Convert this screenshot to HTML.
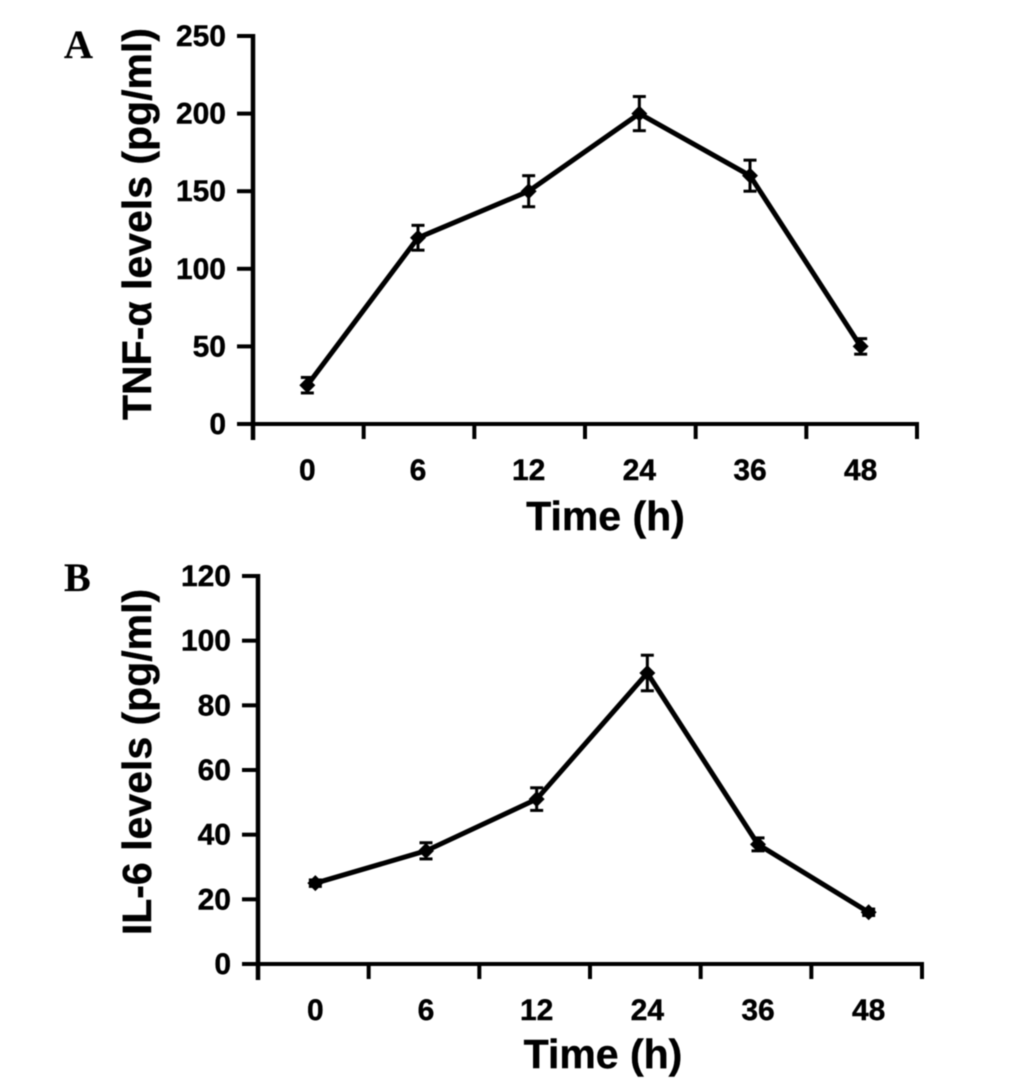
<!DOCTYPE html>
<html>
<head>
<meta charset="utf-8">
<style>
html,body{margin:0;padding:0;background:#fff;}
svg{display:block;filter:blur(0.45px);}
text{font-family:"Liberation Sans",sans-serif;font-weight:bold;fill:#000;stroke:#000;stroke-width:0.4px;}
.letter{font-family:"Liberation Serif",serif;stroke-width:0.2px;}
</style>
</head>
<body>
<svg id="figure" width="1033" height="1083" viewBox="0 0 1033 1083" xmlns="http://www.w3.org/2000/svg">
<rect width="1033" height="1083" fill="#fff"/>
<text class="letter" x="64" y="58" font-size="40">A</text>
<text class="letter" x="64" y="591" font-size="40">B</text>
</svg>
<script>
const categories = ["0", "6", "12", "24", "36", "48"];
const tnfValues = [25, 120, 150, 200, 160, 50];
const tnfErrors = [5, 8, 10, 11, 10, 5];
const tnfTicks = [0, 50, 100, 150, 200, 250];
const il6Values = [25, 35, 51, 90, 37, 16];
const il6Errors = [1, 2.5, 3.5, 5.5, 2, 1];
const il6Ticks = [0, 20, 40, 60, 80, 100, 120];

const svg = document.getElementById('figure');
const NS = 'http://www.w3.org/2000/svg';

function make(tag, attrs, name) {
  const el = document.createElementNS(NS, tag);
  for (const k in attrs) el.setAttribute(k, attrs[k]);
  
  
  svg.appendChild(el);
  return el;
}

function drawPanel(p) {
  const yMax = p.ticks[p.ticks.length - 1];
  const yPos = v => p.y0 - (v / yMax) * (p.y0 - p.yTop);
  const band = (p.xEnd - p.x0) / p.cats.length;
  const xPos = i => p.x0 + band * (i + 0.5) + p.shift;
  const id = p.id;

  make('line', {x1: p.x0, x2: p.x0, y1: p.yTop - 2, y2: p.y0 + 16, stroke: '#000', 'stroke-width': 4.5}, id + '-y-axis');
  make('line', {x1: p.x0 - 16, x2: p.xEnd + 2, y1: p.y0, y2: p.y0, stroke: '#000', 'stroke-width': 4}, id + '-x-axis');

  p.ticks.forEach(t => {
    const y = yPos(t);
    make('line', {x1: p.x0 - 16, x2: p.x0, y1: y, y2: y, stroke: '#000', 'stroke-width': 4}, id + '-y-tick');
    const lab = make('text', {x: p.x0 - 27, y: y + 10, 'font-size': 30, 'text-anchor': 'end'}, id + '-y-tick-label');
    lab.textContent = String(t);
  });

  for (let i = 1; i <= p.cats.length; i++) {
    const x = p.x0 + band * i;
    make('line', {x1: x, x2: x, y1: p.y0, y2: p.y0 + 15, stroke: '#000', 'stroke-width': 4}, id + '-x-tick');
  }

  p.cats.forEach((c, i) => {
    const lab = make('text', {x: xPos(i), y: p.y0 + 56, 'font-size': 30, 'text-anchor': 'middle'}, id + '-x-tick-label');
    lab.textContent = c;
  });

  const pts = p.values.map((v, i) => xPos(i) + ',' + yPos(v)).join(' ');
  make('polyline', {points: pts, fill: 'none', stroke: '#000', 'stroke-width': 5, 'stroke-linejoin': 'miter'}, id + '-series-line');

  p.values.forEach((v, i) => {
    const x = xPos(i), hi = yPos(v + p.errors[i]), lo = yPos(v - p.errors[i]);
    make('line', {x1: x, x2: x, y1: hi, y2: lo, stroke: '#000', 'stroke-width': 3}, id + '-error-bar');
    make('line', {x1: x - 6.5, x2: x + 6.5, y1: hi, y2: hi, stroke: '#000', 'stroke-width': 3}, id + '-error-cap-top');
    make('line', {x1: x - 6.5, x2: x + 6.5, y1: lo, y2: lo, stroke: '#000', 'stroke-width': 3}, id + '-error-cap-bottom');
    const y = yPos(v);
    make('polygon', {points: [x - 8, y, x, y - 8, x + 8, y, x, y + 8].join(','), fill: '#000'}, id + '-data-point');
  });

  const xt = make('text', {x: p.xTitleX, y: p.xTitleY, 'font-size': 41, 'text-anchor': 'middle'}, id + '-x-axis-title');
  xt.textContent = 'Time (h)';

  const yt = make('text', {transform: 'translate(' + p.yTitleX + ',' + p.yTitleY + ') rotate(-90)', 'font-size': 41, 'text-anchor': 'middle'}, id + '-y-axis-title');
  yt.textContent = p.yTitle;
}

drawPanel({id: 'tnf', cats: categories, values: tnfValues, errors: tnfErrors, ticks: tnfTicks,
  x0: 253, xEnd: 917, y0: 424, yTop: 36, shift: -1, xTitleX: 605.5, xTitleY: 530,
  yTitleX: 151, yTitleY: 224, yTitle: 'TNF-α levels (pg/ml)'});
drawPanel({id: 'il6', cats: categories, values: il6Values, errors: il6Errors, ticks: il6Ticks,
  x0: 258, xEnd: 922, y0: 964, yTop: 576, shift: 2, xTitleX: 603, xTitleY: 1068,
  yTitleX: 151, yTitleY: 762, yTitle: 'IL-6 levels (pg/ml)'});
</script>
</body>
</html>
